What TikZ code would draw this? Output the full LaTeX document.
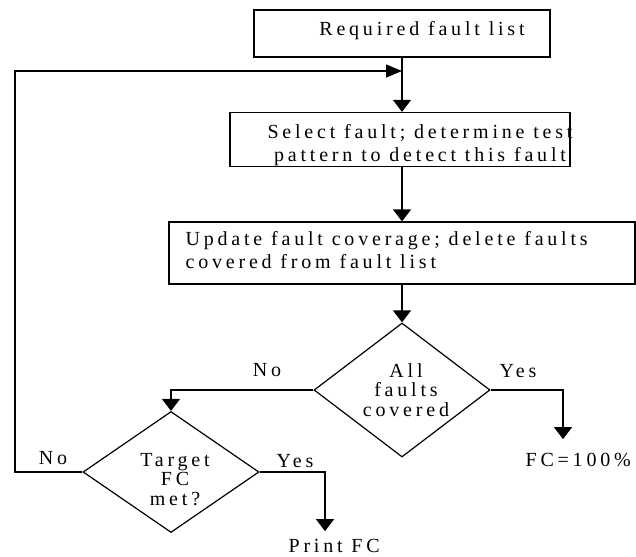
\documentclass[tikz,border=0pt]{standalone}
\usepackage{fontspec}
\setmainfont{Liberation Serif}[LetterSpace=19]
\usetikzlibrary{arrows.meta,shapes.geometric}
\begin{document}
\begin{tikzpicture}[x=1pt,y=-1pt,
  line width=1.2pt,
  box/.style={draw, rectangle, inner sep=0pt},
  choice/.style={draw, diamond, inner sep=0pt},
  lbl/.style={font=\fontsize{20}{20}\selectfont, inner sep=0pt},
  txt/.style={font=\fontsize{20}{23}\selectfont, inner sep=0pt, align=center},
  dtxt/.style={font=\fontsize{20}{19.5}\selectfont, inner sep=0pt, align=center},
  flow/.style={-{Triangle[length=12pt,width=18pt]}},
  flowr/.style={-{Triangle[length=16pt,width=13pt]}},
  ]
\useasboundingbox (0,0) rectangle (636,556);

% process boxes (multi-line texts are placed by the baseline of their last line)
\node[box, minimum width=296pt, minimum height=47pt] (req) at (402,33.5) {};
\node[lbl, anchor=base] (reqt) at (422,36) {Required fault list};

\node[box, minimum width=340pt, minimum height=54pt] (sel) at (400,139.5) {};
\node[txt, anchor=base] (selt) at (420,161) {Select fault; determine test\\pattern to detect this fault};

\node[box, minimum width=466pt, minimum height=62pt] (upd) at (402,253) {};
\node[txt, align=left, anchor=base west] (updt) at (185,268) {Update fault coverage; delete faults\\covered from fault list};

% decisions
\node[choice, minimum width=176pt, minimum height=134pt] (all) at (402,390) {};
\node[dtxt, anchor=base] (allt) at (406,416) {All\\faults\\covered};

\node[choice, minimum width=176pt, minimum height=121pt] (tgt) at (171,472) {};
\node[dtxt, anchor=base] (tgtt) at (175,505) {Target\\FC\\met?};

% terminal texts
\node[lbl, anchor=base west] (full) at (525,466) {FC=100\%};
\node[lbl, anchor=base west] (prt) at (288,552) {Print FC};

% loop-back rail
\coordinate (merge) at (402,71);
\coordinate (rail) at (15,71);

% connectors
\draw[flow] (req.south) -- (req.south |- sel.north);
\draw[flow] (req.south |- sel.south) -- (upd.north);
\draw[flow] (upd.south) -- (all.north);
\draw[flow] (all.west) -| (tgt.north);
\draw[flow, shorten >=13pt] (all.east) -| ([xshift=38pt]full.north west);
\draw[flow, shorten >=7pt] (tgt.east) -| ([xshift=37pt]prt.north west);
\draw[flowr] (tgt.west) -| (rail) -- (merge);

% branch labels
\node[lbl, anchor=base] (no1) at (267,376) {No};
\node[lbl, anchor=base] (yes1) at (518,377) {Yes};
\node[lbl, anchor=base] (no2) at (53,464) {No};
\node[lbl, anchor=base] (yes2) at (295,467) {Yes};
\end{tikzpicture}
\end{document}
